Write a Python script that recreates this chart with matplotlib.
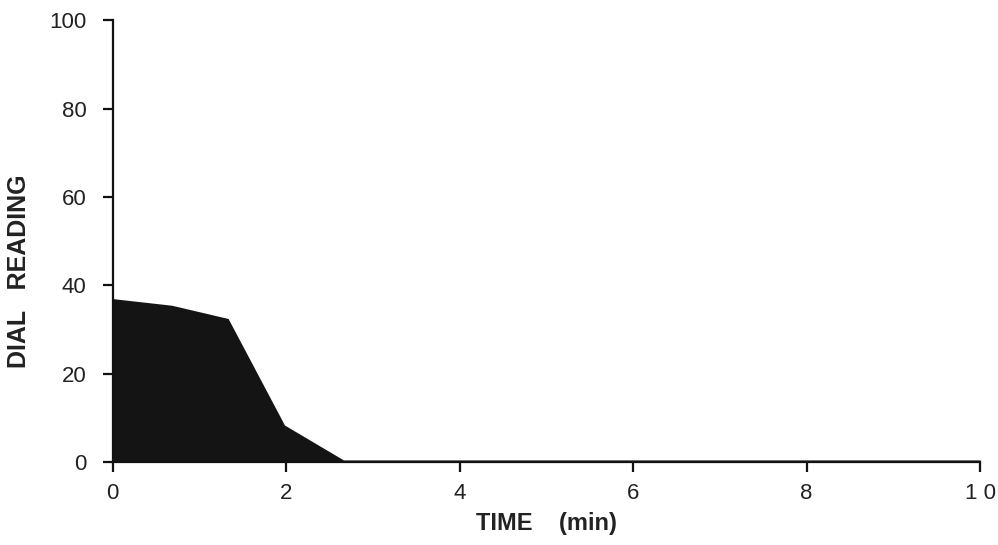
import numpy as np
import matplotlib.pyplot as plt

plt.rcParams['font.family'] = ['Liberation Sans', 'DejaVu Sans']

# digitised outline of the dial reading curve
time_min = [0.0, 0.68, 1.33, 1.98, 2.66, 10.0]
dial = [37.0, 35.5, 32.5, 8.4, 0.5, 0.5]

x_ticks = [0, 2, 4, 6, 8, 10]
y_ticks = [0, 20, 40, 60, 80, 100]

fig = plt.figure(figsize=(9.98, 5.45), dpi=100)
ax = fig.add_axes([0.113, 0.152, 0.869, 0.811])

ax.fill_between(time_min, dial, 0, color='#141414', linewidth=0)

ax.set_xlim(0, 10)
ax.set_ylim(0, 100)
ax.set_xticks(x_ticks)
ax.set_yticks(y_ticks)
ax.set_xticklabels(['0', '2', '4', '6', '8', '1 0'])

for s in ['top', 'right']:
    ax.spines[s].set_visible(False)
for s in ['left', 'bottom']:
    ax.spines[s].set_linewidth(1.6)
    ax.spines[s].set_color('#111111')

ax.tick_params(direction='out', length=7, width=1.6, color='#111111',
               labelsize=16, labelcolor='#222222', pad=8)
ax.tick_params(axis='y', pad=12)

ax.set_xlabel('TIME    (min)', fontsize=17, fontweight='bold', color='#222222', labelpad=6)
fig.text(0.019, 0.503, 'DIAL   READING', rotation=90, fontsize=18, fontweight='bold',
         color='#222222', ha='center', va='center')

fig.savefig('out.png', dpi=100)
